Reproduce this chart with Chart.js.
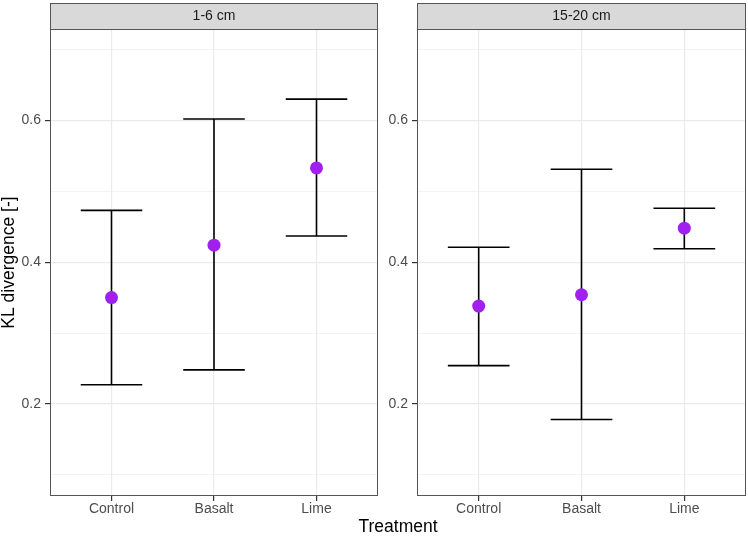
<!DOCTYPE html>
<html>
<head>
<meta charset="utf-8">
<script src="https://cdn.jsdelivr.net/npm/chart.js@4.4.1/dist/chart.umd.min.js"></script>
<style>
  html, body { margin:0; padding:0; background:#fff; }
  #wrap { position:relative; width:748px; height:536px; background:#fff; font-family:"Liberation Sans", Arial, sans-serif; }
  .pane { position:absolute; top:0; height:536px; }
  #xt { position:absolute; left:0; width:796px; top:516px; text-align:center; font-size:17.5px; color:#000; line-height:20px; }
</style>
</head>
<body>
<div id="wrap">
  <div class="pane" style="left:0;width:380px"><canvas id="c1" width="380" height="536"></canvas></div>
  <div class="pane" style="left:380px;width:368px"><canvas id="c2" width="368" height="536"></canvas></div>
  <div id="xt">Treatment</div>
</div>
<script>
// ---- data ----
const categories = ['Control', 'Basalt', 'Lime'];
const panels = ['1-6 cm', '15-20 cm'];
const mean_1_6   = [0.350, 0.424, 0.533];
const lower_1_6  = [0.227, 0.248, 0.437];
const upper_1_6  = [0.473, 0.602, 0.630];
const mean_15_20  = [0.338, 0.354, 0.448];
const lower_15_20 = [0.254, 0.178, 0.419];
const upper_15_20 = [0.421, 0.531, 0.476];
const yTickValues = [0.1, 0.2, 0.3, 0.4, 0.5, 0.6, 0.7];
const yMajorLabels = [0.2, 0.4, 0.6];
const yMin = 0.070, yMax = 0.729;
const capHalf = 0.3;

const FONT = '"Liberation Sans", Arial, sans-serif';
const isMajor = v => yMajorLabels.some(m => Math.abs(m - v) < 1e-9);

function errorSegments(lo, hi) {
  const pts = [];
  for (let i = 0; i < categories.length; i++) {
    const x = i + 1;
    pts.push({x: x, y: lo[i]}, {x: x, y: hi[i]}, {x: x, y: null});
    pts.push({x: x - capHalf, y: hi[i]}, {x: x + capHalf, y: hi[i]}, {x: x, y: null});
    pts.push({x: x - capHalf, y: lo[i]}, {x: x + capHalf, y: lo[i]}, {x: x, y: null});
  }
  return pts;
}

const panelPlugin = {
  id: 'panel',
  afterDraw(chart, args, opts) {
    const {ctx, chartArea: a} = chart;
    ctx.save();
    const st = 3;
    ctx.fillStyle = '#D9D9D9';
    ctx.fillRect(a.left, st, a.right - a.left, a.top - st);
    ctx.strokeStyle = '#555555';
    ctx.lineWidth = 1;
    ctx.strokeRect(a.left + 0.5, st + 0.5, a.right - a.left - 1, a.top - st);
    ctx.strokeRect(a.left + 0.5, a.top + 0.5, a.right - a.left - 1, a.bottom - a.top - 1);
    ctx.fillStyle = '#1A1A1A';
    ctx.font = '14px ' + FONT;
    ctx.textAlign = 'center';
    ctx.textBaseline = 'middle';
    ctx.fillText(opts.label, (a.left + a.right) / 2, (st + a.top) / 2 + 0.5);
    ctx.restore();
  }
};

function makeChart(id, label, mean, lo, hi, yWidth, showYTitle) {
  return new Chart(document.getElementById(id), {
    type: 'scatter',
    data: {
      datasets: [
        {
          data: errorSegments(lo, hi),
          showLine: true,
          spanGaps: false,
          borderColor: '#000000',
          borderWidth: 1.6,
          pointRadius: 0,
          pointHoverRadius: 0,
          order: 2
        },
        {
          data: mean.map((v, i) => ({x: i + 1, y: v})),
          pointRadius: 6.5,
          pointBackgroundColor: '#A020F0',
          pointBorderColor: '#A020F0',
          pointBorderWidth: 0,
          order: 1
        }
      ]
    },
    options: {
      responsive: false,
      animation: false,
      devicePixelRatio: 1,
      layout: { autoPadding: false, padding: { top: 29, right: 2, left: 0, bottom: 0 } },
      plugins: {
        legend: { display: false },
        tooltip: { enabled: false },
        panel: { label: label }
      },
      scales: {
        x: {
          type: 'linear',
          min: 0.4, max: 3.6,
          afterBuildTicks: s => { s.ticks = categories.map((c, i) => ({value: i + 1})); },
          afterFit: s => { s.height = 40; },
          ticks: {
            callback: (v) => categories[Math.round(v) - 1],
            color: '#4D4D4D',
            font: { family: FONT, size: 14 },
            padding: 0,
            maxRotation: 0,
            autoSkip: false
          },
          grid: {
            color: '#EBEBEB',
            lineWidth: 1.2,
            drawTicks: true,
            tickLength: 5,
            tickColor: '#333333',
            tickWidth: 1.2
          },
          border: { display: false }
        },
        y: {
          type: 'linear',
          min: yMin, max: yMax,
          afterBuildTicks: s => { s.ticks = yTickValues.map(v => ({value: v})); },
          afterFit: s => { s.width = yWidth; },
          ticks: {
            callback: v => isMajor(v) ? v.toFixed(1) : '',
            color: '#4D4D4D',
            font: { family: FONT, size: 14 },
            padding: 4,
            autoSkip: false
          },
          grid: {
            color: '#EBEBEB',
            lineWidth: ctx => (ctx.tick && isMajor(ctx.tick.value)) ? 1.2 : 0.6,
            drawTicks: true,
            tickLength: 5,
            tickColor: ctx => (ctx.tick && isMajor(ctx.tick.value)) ? '#333333' : 'rgba(0,0,0,0)',
            tickWidth: 1.2
          },
          border: { display: false },
          title: {
            display: showYTitle,
            text: 'KL divergence [-]',
            color: '#000000',
            font: { family: FONT, size: 17.5, lineHeight: 1 },
            padding: { top: 0, bottom: 0 }
          }
        }
      }
    },
    plugins: [panelPlugin]
  });
}

makeChart('c1', panels[0], mean_1_6, lower_1_6, upper_1_6, 50, true);
makeChart('c2', panels[1], mean_15_20, lower_15_20, upper_15_20, 37, false);
</script>
</body>
</html>
